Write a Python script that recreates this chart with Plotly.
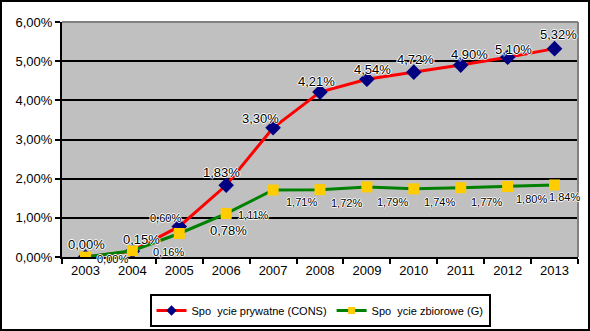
import plotly.graph_objects as go

# Data: growth of private and public consumption, 2003-2013 (%)
years = ["2003", "2004", "2005", "2006", "2007", "2008", "2009", "2010", "2011", "2012", "2013"]
cons_values = [0.00, 0.15, 0.78, 1.83, 3.30, 4.21, 4.54, 4.72, 4.90, 5.10, 5.32]
g_values = [0.00, 0.16, 0.60, 1.11, 1.71, 1.72, 1.79, 1.74, 1.77, 1.80, 1.84]
cons_name = "Spo\u00a0\u00a0ycie prywatne (CONS)"
g_name = "Spo\u00a0\u00a0ycie zbiorowe (G)"
y_tick_values = [0, 1, 2, 3, 4, 5, 6]
y_tick_labels = ["0,00%", "1,00%", "2,00%", "3,00%", "4,00%", "5,00%", "6,00%"]

# Label offsets (px, x right / y down) for each point's value label
cons_label_shift = [(1, -13), (9, -12), (49, 4), (-5, -13), (-13, -9), (-4, -11),
                    (6, -10), (2, -13), (9, -11), (6, -8), (4, -14)]
g_label_shift = [(27, 2), (36, 1), (-14, -16), (27, 1), (28, 12), (26, 13),
                 (26, 15), (26, 13), (26, 14), (24, 12), (10, 12)]

W, H = 590, 331
ML, MR, MT, MB = 62, 12, 22, 74
PW, PH = W - ML - MR, H - MT - MB

FONT = "Liberation Sans, Arial, sans-serif"
HALO = "1px 0 0 white, -1px 0 0 white, 0 1px 0 white, 0 -1px 0 white"
CONS_LINE = dict(color="#FF0000", width=3)
G_LINE = dict(color="#008000", width=3)


def fmt(v):
    return f"{v:.2f}%".replace(".", ",")


fig = go.Figure()
fig.add_trace(go.Scatter(
    x=years, y=cons_values, name=cons_name, mode="lines+markers",
    line=CONS_LINE, marker=dict(symbol="diamond", size=12, color="#000080"),
    showlegend=False,
))
fig.add_trace(go.Scatter(
    x=years, y=g_values, name=g_name, mode="lines+markers",
    line=G_LINE, marker=dict(symbol="square", size=11, color="#FFCC00"),
    showlegend=False,
))
# legend entries with smaller symbols
fig.add_trace(go.Scatter(
    x=[None], y=[None], name=cons_name, mode="lines+markers",
    line=CONS_LINE, marker=dict(symbol="diamond", size=8, color="#000080"),
))
fig.add_trace(go.Scatter(
    x=[None], y=[None], name=g_name, mode="lines+markers",
    line=G_LINE, marker=dict(symbol="square", size=7, color="#FFCC00"),
))

annotations = []
for i, (v, (dx, dy)) in enumerate(zip(cons_values, cons_label_shift)):
    annotations.append(dict(x=i, y=v, xref="x", yref="y", text=fmt(v), showarrow=False,
                            xshift=dx, yshift=-dy,
                            font=dict(family=FONT, size=13, color="black", shadow=HALO)))
for i, (v, (dx, dy)) in enumerate(zip(g_values, g_label_shift)):
    annotations.append(dict(x=i, y=v, xref="x", yref="y", text=fmt(v), showarrow=False,
                            xshift=dx, yshift=-dy,
                            font=dict(family=FONT, size=11, color="black", shadow=HALO)))


def px_x(p):
    return (p - ML) / PW


def px_y(p):
    return (MT + PH - p) / PH


shapes = [
    # top and right edges of the plot area
    dict(type="line", xref="paper", yref="paper", x0=0, x1=1, y0=1, y1=1,
         line=dict(color="#808080", width=2), layer="above"),
    dict(type="line", xref="paper", yref="paper", x0=1, x1=1, y0=0, y1=1,
         line=dict(color="#808080", width=2), layer="above"),
    # outer frame of the chart
    dict(type="rect", xref="paper", yref="paper",
         x0=px_x(1), x1=px_x(W - 1), y0=px_y(H - 1), y1=px_y(1),
         line=dict(color="black", width=2), layer="above"),
]

fig.update_layout(
    width=W, height=H,
    margin=dict(l=ML, r=MR, t=MT, b=MB, pad=0),
    paper_bgcolor="white", plot_bgcolor="#C0C0C0",
    font=dict(family=FONT, size=13, color="black"),
    showlegend=True,
    legend=dict(orientation="h", x=0.5, xanchor="center",
                yref="container", y=(H - 327) / H, yanchor="bottom",
                bgcolor="white", bordercolor="black", borderwidth=2,
                font=dict(family=FONT, size=11, color="black"),
                itemwidth=30, tracegroupgap=0),
    xaxis=dict(type="category", range=[-0.5, len(years) - 0.5],
               showline=True, linecolor="black", linewidth=2,
               ticks="outside", tickson="boundaries", ticklen=5, tickwidth=2, tickcolor="black",
               showgrid=False, zeroline=False, fixedrange=True,
               tickfont=dict(family=FONT, size=13)),
    yaxis=dict(range=[0, 6], tickvals=y_tick_values, ticktext=y_tick_labels,
               showline=True, linecolor="black", linewidth=2,
               ticks="outside", ticklen=5, tickwidth=2, tickcolor="black",
               showgrid=True, gridcolor="black", gridwidth=2, zeroline=False,
               fixedrange=True, tickfont=dict(family=FONT, size=13)),
    annotations=annotations,
    shapes=shapes,
)

fig.write_html("out.html")
